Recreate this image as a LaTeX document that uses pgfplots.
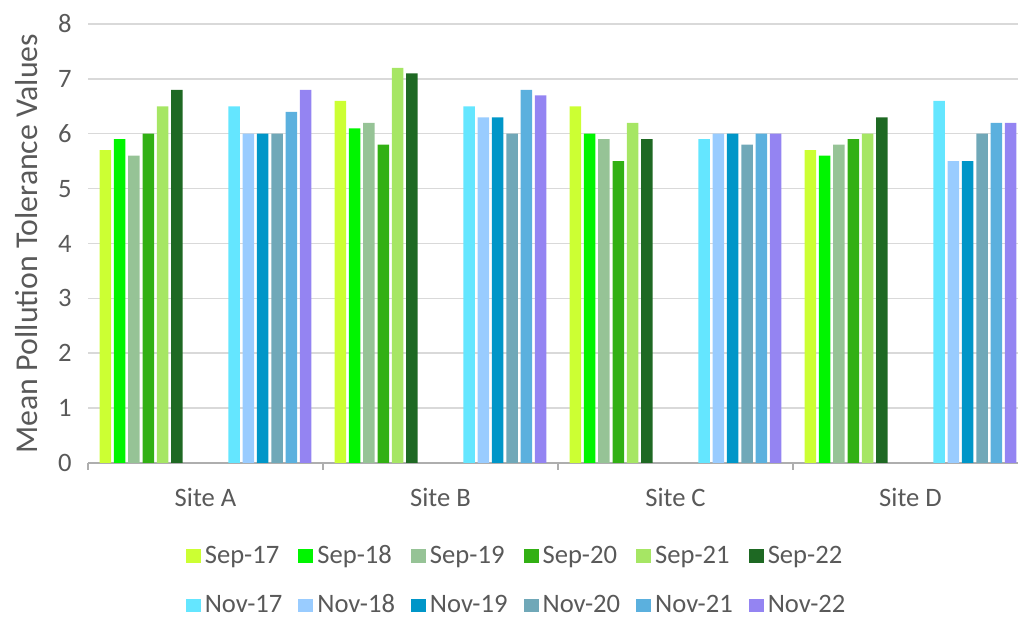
\documentclass[border=0pt]{standalone}
\usepackage{fontspec}
\setmainfont{Carlito}
\usepackage{pgfplots}
\pgfplotsset{compat=1.18}
\definecolor{txt}{RGB}{89,89,89}
\definecolor{gridc}{RGB}{217,217,217}
\definecolor{sA}{RGB}{204,255,51}
\definecolor{sB}{RGB}{0,245,0}
\definecolor{sC}{RGB}{150,195,150}
\definecolor{sD}{RGB}{50,176,20}
\definecolor{sE}{RGB}{166,230,100}
\definecolor{sF}{RGB}{30,105,35}
\definecolor{nA}{RGB}{100,230,255}
\definecolor{nB}{RGB}{153,204,255}
\definecolor{nC}{RGB}{0,150,200}
\definecolor{nD}{RGB}{112,168,184}
\definecolor{nE}{RGB}{91,176,222}
\definecolor{nF}{RGB}{148,132,242}
\begin{document}
\begin{tikzpicture}
\useasboundingbox (0,0) rectangle (509pt,310pt);
\begin{axis}[
  at={(44pt,78.5pt)}, anchor=south west,
  scale only axis, width=470pt, height=219.5pt,
  ybar, bar width=5.75pt,
  xmin=-0.5, xmax=3.5, ymin=0, ymax=8,
  xtick={0,1,2,3}, xticklabels={Site A,Site B,Site C,Site D},
  ytick={0,1,...,8},
  major tick length=0pt,
  extra x ticks={-0.5,0.5,1.5,2.5,3.5}, extra x tick labels={},
  extra x tick style={major tick length=3.5pt, tick align=outside,
    tick style={draw=gridc!80!black, line width=0.75pt}},
  axis x line*=bottom, axis y line*=left,
  y axis line style={draw=none},
  x axis line style={draw=gridc!80!black, line width=0.75pt},
  ymajorgrids, grid style={draw=gridc, line width=0.75pt},
  ylabel={Mean Pollution Tolerance Values},
  ylabel style={font=\fontsize{15.9}{18}\selectfont, color=txt, anchor=center,
    at={(axis description cs:-0.065,0.5)}},
  ticklabel style={font=\fontsize{13.3}{15}\selectfont, color=txt},
  /pgf/number format/assume math mode=true,
  xticklabel style={anchor=base, yshift=-21.75pt},
  yticklabel style={xshift=-4.7pt},
  legend columns=6,
  legend style={draw=none, fill=none, font=\fontsize{13.3}{15}\selectfont, text=txt,
    at={(0.457,-0.268)}, anchor=center,
    /tikz/every even column/.append style={column sep=6pt},
    row sep=10pt},
  legend cell align=left,
  legend image code/.code={\fill[#1] (0pt,-3.3pt) rectangle (7.5pt,3.3pt);},
]
\addplot[fill=sA, draw=none, bar shift=-50.05pt] coordinates {(0,5.7) (1,6.6) (2,6.5) (3,5.7)};
\addplot[fill=sB, draw=none, bar shift=-42.9pt] coordinates {(0,5.9) (1,6.1) (2,6.0) (3,5.6)};
\addplot[fill=sC, draw=none, bar shift=-35.75pt] coordinates {(0,5.6) (1,6.2) (2,5.9) (3,5.8)};
\addplot[fill=sD, draw=none, bar shift=-28.6pt] coordinates {(0,6.0) (1,5.8) (2,5.5) (3,5.9)};
\addplot[fill=sE, draw=none, bar shift=-21.45pt] coordinates {(0,6.5) (1,7.2) (2,6.2) (3,6.0)};
\addplot[fill=sF, draw=none, bar shift=-14.3pt] coordinates {(0,6.8) (1,7.1) (2,5.9) (3,6.3)};
\addplot[fill=nA, draw=none, bar shift=14.3pt] coordinates {(0,6.5) (1,6.5) (2,5.9) (3,6.6)};
\addplot[fill=nB, draw=none, bar shift=21.45pt] coordinates {(0,6.0) (1,6.3) (2,6.0) (3,5.5)};
\addplot[fill=nC, draw=none, bar shift=28.6pt] coordinates {(0,6.0) (1,6.3) (2,6.0) (3,5.5)};
\addplot[fill=nD, draw=none, bar shift=35.75pt] coordinates {(0,6.0) (1,6.0) (2,5.8) (3,6.0)};
\addplot[fill=nE, draw=none, bar shift=42.9pt] coordinates {(0,6.4) (1,6.8) (2,6.0) (3,6.2)};
\addplot[fill=nF, draw=none, bar shift=50.05pt] coordinates {(0,6.8) (1,6.7) (2,6.0) (3,6.2)};
\legend{Sep-17,Sep-18,Sep-19,Sep-20,Sep-21,Sep-22,Nov-17,Nov-18,Nov-19,Nov-20,Nov-21,Nov-22}
\end{axis}
\end{tikzpicture}
\end{document}
